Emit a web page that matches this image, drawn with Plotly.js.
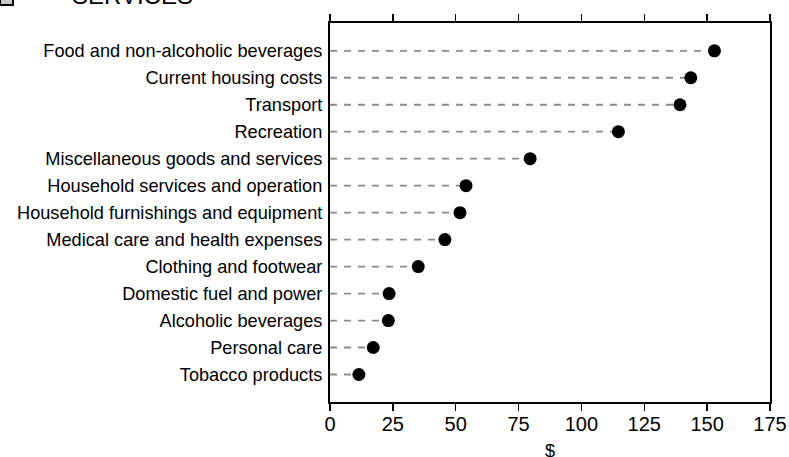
<!DOCTYPE html>
<html>
<head>
<meta charset="utf-8">
<script src="https://cdn.plot.ly/plotly-3.0.1.min.js"></script>
<style>html,body{margin:0;padding:0;background:#fff;}#chart{width:789px;height:457px;}</style>
</head>
<body>
<div id="chart"></div>
<script>
const categories = [
  "Food and non-alcoholic beverages",
  "Current housing costs",
  "Transport",
  "Recreation",
  "Miscellaneous goods and services",
  "Household services and operation",
  "Household furnishings and equipment",
  "Medical care and health expenses",
  "Clothing and footwear",
  "Domestic fuel and power",
  "Alcoholic beverages",
  "Personal care",
  "Tobacco products"
];
const values = [152.9, 143.5, 139.2, 114.7, 79.6, 54.1, 51.7, 45.7, 35.1, 23.5, 23.2, 17.2, 11.5];
const xTicks = [0, 25, 50, 75, 100, 125, 150, 175];
const titleText = "SERVICES";
const xTitle = "$";

const lx = [], ly = [];
categories.forEach((c, i) => { lx.push(0, values[i], null); ly.push(c, c, null); });

const FONT = "Liberation Sans, Arial, sans-serif";
const L = 330, R = 19, T = 23, B = 55;
const W = 789 - L - R, H = 457 - T - B;
const px = x => (x - L) / W;
const py = y => 1 + (T - y) / H;

const traces = [
  { x: lx, y: ly, type: "scatter", mode: "lines", hoverinfo: "skip",
    line: { color: "#8a8a8a", width: 1.8, dash: "7px,7px" }, showlegend: false },
  { x: values, y: categories, type: "scatter", mode: "markers",
    marker: { color: "#000", size: 13 }, showlegend: false }
];

const layout = {
  width: 789, height: 457,
  margin: { l: L, r: R, t: T, b: B, pad: 0 },
  paper_bgcolor: "#fff", plot_bgcolor: "#fff",
  font: { family: FONT, color: "#000", size: 18 },
  xaxis: {
    range: [0, 175], tickvals: xTicks, ticktext: xTicks.map(String),
    ticks: "outside", ticklen: 7, tickwidth: 1.5, tickcolor: "#000",
    showline: true, linecolor: "#000", linewidth: 2, mirror: "ticks",
    showgrid: false, zeroline: false,
    ticklabelstandoff: -4,
    tickfont: { family: FONT, size: 20, color: "#000" }
  },
  yaxis: {
    type: "category", categoryorder: "array", categoryarray: categories,
    range: [13.02, -1.03],
    showline: true, linecolor: "#000", linewidth: 2, mirror: true,
    showgrid: false, zeroline: false, ticks: "",
    ticklabelstandoff: 2,
    tickfont: { family: FONT, size: 18.2, color: "#000" }
  },
  shapes: [
    { type: "rect", xref: "paper", yref: "paper",
      x0: px(0), x1: px(13), y0: py(5), y1: py(-10),
      fillcolor: "#c8c8c8", line: { color: "#000", width: 2 } }
  ],
  annotations: [
    { text: titleText, xref: "paper", yref: "paper", x: px(70), y: py(-4),
      xanchor: "left", yanchor: "middle", showarrow: false,
      font: { family: FONT, size: 24, color: "#000" } },
    { text: xTitle, xref: "paper", yref: "paper", x: 0.5, y: py(451),
      xanchor: "center", yanchor: "middle", showarrow: false,
      font: { family: FONT, size: 18, color: "#000" } }
  ]
};

Plotly.newPlot("chart", traces, layout, { staticPlot: true, displayModeBar: false });
</script>
</body>
</html>
